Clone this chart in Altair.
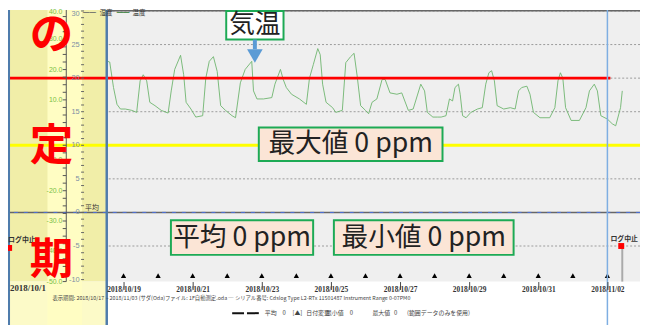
import altair as alt
import pandas as pd

W, H = 640, 319

# x = days since 2018-10-17 00:00, y = temperature (deg C)
X_DOMAIN = [-1.3429, 16.943]
Y_DOMAIN = [-16.765, 30.147]
G_DOMAIN = [-64.34, 39.674]          # secondary (green) scale on the left

curve_day = [
    -1.57, -1.48, -1.40, 1.54, 1.60, 1.71, 1.81, 1.91, 2.05, 2.24,
    2.38, 2.48, 2.57, 2.67, 2.76, 2.91, 3.09, 3.29, 3.38, 3.48,
    3.65, 3.74, 3.81, 3.95, 4.09, 4.29, 4.38, 4.48, 4.60, 4.71,
    4.81, 4.95, 5.14, 5.24, 5.38, 5.52, 5.71, 5.76, 5.86, 6.05,
    6.29, 6.38, 6.54, 6.62, 6.71, 6.86, 7.09, 7.29, 7.38, 7.49,
    7.62, 7.69, 7.76, 7.86, 8.05, 8.14, 8.33, 8.43, 8.57, 8.67,
    8.76, 8.86, 9.00, 9.09, 9.19, 9.33, 9.48, 9.57, 9.71, 9.91,
    10.05, 10.24, 10.38, 10.60, 10.71, 10.79, 10.95, 11.09, 11.19, 11.33,
    11.43, 11.52, 11.59, 11.69, 11.74, 11.81, 11.91, 12.05, 12.24, 12.38,
    12.48, 12.57, 12.65, 12.73, 12.81, 13.00, 13.19, 13.33, 13.43, 13.52,
    13.67, 13.76, 13.86, 14.05, 14.33, 14.48, 14.57, 14.64, 14.71, 14.79,
    14.95, 15.19, 15.38, 15.48, 15.62, 15.71, 15.81, 16.00, 16.14, 16.24,
    16.38, 16.43,
]
curve_temp = [
    15.6, 18.1, 19.6, 22.5, 22.4, 18.6, 16.1, 15.4, 15.4, 15.2,
    14.9, 19.6, 20.5, 19.6, 16.4, 15.9, 15.2, 14.8, 18.1, 21.3,
    23.4, 20.5, 16.4, 15.4, 14.2, 14.4, 20.0, 22.5, 23.2, 21.0,
    15.9, 15.2, 14.4, 14.1, 19.3, 21.3, 22.5, 18.1, 16.9, 16.9,
    17.1, 19.1, 21.3, 19.8, 18.6, 17.6, 16.9, 16.1, 20.0, 22.0,
    24.4, 23.5, 19.1, 16.4, 15.6, 14.9, 15.2, 22.3, 23.2, 23.7,
    20.3, 15.9, 15.2, 14.7, 16.4, 16.9, 19.8, 19.8, 17.8, 17.6,
    17.8, 15.2, 15.4, 19.1, 18.1, 14.9, 14.2, 14.2, 14.2, 14.4,
    16.9, 16.6, 18.6, 19.1, 17.6, 14.4, 14.1, 14.9, 15.4, 15.6,
    19.1, 20.8, 21.1, 19.6, 15.9, 15.4, 15.6, 15.4, 18.1, 18.6,
    18.8, 17.6, 14.9, 14.1, 14.1, 15.6, 19.6, 20.8, 20.0, 15.6,
    13.7, 13.7, 15.6, 18.1, 19.1, 18.1, 14.4, 13.9, 13.2, 12.9,
    15.6, 18.1,
]

grid_temps = [30, 25, 20, 15, 10, 5, -5]
temp_ticks = [30, 29, 28, 27, 26, 25, 24, 23, 22, 21, 20, 19, 18, 17, 16, 15, 14, 13, 12, 11,
              10, 9, 8, 7, 6, 5, 4, 3, 2, 1, 0, -1, -2, -3, -4, -5, -6, -7, -8, -9, -10]
temp_labels = [25, 20, 15, 10, 5, 0, -5, -10]
green_ticks = [37.5, 35, 32.5, 30, 27.5, 25, 22.5, 20, 17.5, 15, 12.5, 10, 7.5, 5, 2.5, 0,
               -2.5, -5, -7.5, -10, -12.5, -15, -17.5, -20, -22.5, -25, -27.5, -30, -32.5,
               -35, -37.5, -40, -42.5, -45, -47.5, -50]
green_labels = [30, 20, 10, 0, -10, -20, -30, -40, -50]
marker_days = [0, 1, 2, 3, 4, 5, 6, 7, 8, 9, 10, 11, 12, 13, 14, 15, 16]
label_days = [2, 4, 6, 8, 10, 12, 14, 16]

PLOT_BOTTOM = -10.3      # temperature where grey plot area ends
G_BOTTOM = -50.0
TOP_LINE = 30.05
MARKER_T = -9.41
BAND = [-1.32, 1.514]
STRIP = [-0.2, 0.8]
RED_END = 16.086
CURSOR_DAY = 16.0
G_AXIS_DAY = 0.343
G_TICK = [0.24, 0.343]
G_LABEL_DAY = 0.229
T_TICK = [0.771, 0.857]
T_LABEL_DAY = 0.73

boxes = pd.DataFrame({
    "label": ["気温", "最大値 0 ppm", "平均 0 ppm", "最小値 0 ppm"],
    "x1": [4.971, 5.914, 3.371, 8.086],
    "x2": [6.629, 11.229, 7.486, 13.286],
    "y1": [30.0, 12.65, -1.18, -1.18],
    "y2": [25.74, 7.65, -6.32, -6.32],
    "cx": [5.80, 8.571, 5.429, 10.686],
    "cy": [27.85, 10.15, -3.75, -3.75],
    "fs": [26, 27, 27, 27],
    "fill": ["#ffffff", "#fbe5d6", "#fbe5d6", "#fbe5d6"],
})

big_chars = pd.DataFrame({"ch": ["の", "定", "期"], "d": [-0.086, -0.086, -0.086],
                          "t": [26.2, 9.7, -7.2]})

foot2_items = ["平均", "0", "[▲]", "日付変更", "最小値", "0", "最大値", "0", "(範囲データのみを使用)"]
foot2_days = [6.086, 6.60, 6.886, 7.286, 7.857, 8.543, 9.20, 9.829, 10.20]
FOOT2_T = -15.0
FOOT2_LINE = [5.143, 5.914]

xs = alt.Scale(domain=X_DOMAIN, nice=False, zero=False)
ys = alt.Scale(domain=Y_DOMAIN, nice=False, zero=False)
gs = alt.Scale(domain=G_DOMAIN, nice=False, zero=False)


def X(f="d"):
    return alt.X(f, type="quantitative", scale=xs, axis=None)


def Y(f="t"):
    return alt.Y(f, type="quantitative", scale=ys, axis=None)


def G(f="g"):
    return alt.Y(f, type="quantitative", scale=gs, axis=None)


def one(**kw):
    return alt.Chart(pd.DataFrame({k: [v] for k, v in kw.items()}))


# ---------------- layer 1: plot background, data, band, reference lines
x_axis = alt.Chart(pd.DataFrame({"d": label_days, "t": [MARKER_T] * len(label_days)})).mark_point(
    opacity=0).encode(
    x=alt.X("d:Q", scale=xs, axis=alt.Axis(
        orient="bottom", offset=-44, values=label_days, zindex=1,
        labelExpr="utcFormat(utc(2018,9,17) + datum.value*86400000, '%Y/%m/%d')",
        tickSize=8, labelPadding=-4, domain=False, grid=False, title=None,
        labelFont="Liberation Serif", labelFontSize=7.5, labelFontWeight="bold",
        labelColor="#333333", tickColor="#444444", labelOverlap=False, labelFlush=False)),
    y=Y())

bg = one(a=PLOT_BOTTOM, b=Y_DOMAIN[1]).mark_rect(color="#efefef").encode(y=Y("a"), y2="b")
top_line = one(t=TOP_LINE).mark_rule(color="#666666", strokeWidth=1.5).encode(y=Y())
grid = alt.Chart(pd.DataFrame({"t": grid_temps})).mark_rule(
    color="#9a9a9a", strokeWidth=1, strokeDash=[2, 2]).encode(y=Y())

curve_df = pd.DataFrame({"d": curve_day, "t": curve_temp, "i": range(len(curve_day))})
curve = alt.Chart(curve_df).mark_line(color="#6db46d", strokeWidth=1, opacity=0.9).encode(
    x=X(), y=Y(), order="i:Q")

markers = alt.Chart(pd.DataFrame({"d": marker_days, "t": [MARKER_T] * len(marker_days)})).mark_point(
    shape="triangle-up", filled=True, color="black", size=28, opacity=1).encode(x=X(), y=Y())

band_df = pd.DataFrame({
    "x1": [BAND[0], BAND[0], STRIP[0]], "x2": [BAND[1], BAND[1], STRIP[1]],
    "y1": [PLOT_BOTTOM, Y_DOMAIN[0], Y_DOMAIN[0]], "y2": [Y_DOMAIN[1], PLOT_BOTTOM, Y_DOMAIN[1]],
    "c": ["#f1eea8", "#fcfac8", "#fffdc3"]})
band = alt.Chart(band_df).mark_rect().encode(
    x=X("x1"), x2="x2", y=Y("y1"), y2="y2", color=alt.Color("c:N", scale=None))

red_line = one(a=X_DOMAIN[0], b=RED_END, t=20).mark_rule(color="#ff0000", strokeWidth=3).encode(
    x=X("a"), x2="b", y=Y())
yellow_line = one(t=10).mark_rule(color="#ffff00", strokeWidth=3).encode(y=Y())
zero_line = one(t=0).mark_rule(color="#666666", strokeWidth=1.5).encode(y=Y())
zero_dash = one(t=0).mark_rule(color="#4a6fd8", strokeWidth=1, strokeDash=[4, 6]).encode(y=Y())

vlines = alt.Chart(pd.DataFrame({"d": BAND})).mark_rule(color="#4f7cac", strokeWidth=2.5).encode(x=X())
cursor = one(d=CURSOR_DAY).mark_rule(color="#7eaee2", strokeWidth=1.5).encode(x=X())

L1 = alt.layer(x_axis, bg, grid, top_line, curve, markers, band, red_line, yellow_line,
               zero_line, zero_dash, vlines, cursor).resolve_axis(x="independent")

# ---------------- layer 2: green secondary scale (drawn as marks)
g_domain = one(d=G_AXIS_DAY, a=G_DOMAIN[1], b=G_BOTTOM).mark_rule(color="#555555", strokeWidth=1).encode(
    x=X(), y=G("a"), y2="b")
g_ticks = alt.Chart(pd.DataFrame({"g": green_ticks, "a": [G_TICK[0]] * len(green_ticks),
                                  "b": [G_TICK[1]] * len(green_ticks)})).mark_rule(
    color="#555555", strokeWidth=1).encode(x=X("a"), x2="b", y=G())
g_lbl_df = pd.DataFrame({"g": green_labels, "d": [G_LABEL_DAY] * len(green_labels)})
g_lbl_df["s"] = [f"{v:.1f}" for v in green_labels]
g_labels = alt.Chart(g_lbl_df).mark_text(align="right", fontSize=7, color="#7dbf45",
                                         font="Liberation Sans").encode(x=X(), y=G(), text="s:N")
g_top = one(g=40, d=G_LABEL_DAY, s="40.0").mark_text(align="right", fontSize=7, color="#7dbf45",
                                                      font="Liberation Sans", dy=3).encode(
    x=X(), y=G(), text="s:N")
L2 = alt.layer(g_domain, g_ticks, g_labels, g_top).resolve_axis(x="independent")

# ---------------- layer 3: temperature axis marks and annotations
t_ticks = alt.Chart(pd.DataFrame({"t": temp_ticks, "a": [T_TICK[0]] * len(temp_ticks),
                                  "b": [T_TICK[1]] * len(temp_ticks)})).mark_rule(
    color="#666666", strokeWidth=1).encode(x=X("a"), x2="b", y=Y())
t_lbl_df = pd.DataFrame({"t": temp_labels, "d": [T_LABEL_DAY] * len(temp_labels)})
t_lbl_df["s"] = [str(v) for v in temp_labels]
t_labels = alt.Chart(t_lbl_df).mark_text(align="right", fontSize=7.5, color="#7d8ea3",
                                         font="Liberation Sans").encode(x=X(), y=Y(), text="s:N")
t_top = one(t=30, d=T_LABEL_DAY, s="30").mark_text(align="right", fontSize=7.5, color="#7d8ea3",
                                                    font="Liberation Sans", dy=3).encode(
    x=X(), y=Y(), text="s:N")

stop_sq = alt.Chart(pd.DataFrame({"d": [-1.31, 16.4], "t": [-5.29, -5.0]})).mark_square(
    color="#ff0000", size=36, opacity=1).encode(x=X(), y=Y())
stop_txt_l = one(d=-1.34, t=-4.12).mark_text(
    text="ログ中止", fontSize=7, fontWeight="bold", color="#333333",
    font="Noto Sans CJK JP", align="left").encode(x=X(), y=Y())
stop_txt_r = one(d=16.486, t=-3.97).mark_text(
    text="ログ中止", fontSize=7, fontWeight="bold", color="#333333",
    font="Noto Sans CJK JP", align="center").encode(x=X(), y=Y())
stop_rule = one(d=16.43, a=-5.3, b=PLOT_BOTTOM).mark_rule(color="#aaaaaa", strokeWidth=2).encode(
    x=X(), y=Y("a"), y2="b")

avg_lbl = one(d=1.086, t=0.59).mark_text(text="平均", fontSize=7, color="#333333",
                                         font="Noto Sans CJK JP").encode(x=X(), y=Y())

legend = alt.Chart(pd.DataFrame({
    "d": [0.83, 1.31, 1.80, 2.26], "t": [29.7] * 4,
    "s": ["━━", "湿度", "━━", "温度"], "c": ["#666666", "#333333", "#2e7d32", "#333333"]})
).mark_text(fontSize=6.5, align="left", font="Noto Sans CJK JP").encode(
    x=X(), y=Y(), text="s:N", color=alt.Color("c:N", scale=None))

box_rect = alt.Chart(boxes).mark_rect(stroke="#1daa55", strokeWidth=2).encode(
    x=X("x1"), x2="x2", y=Y("y1"), y2="y2", fill=alt.Fill("fill:N", scale=None))
box_text = alt.Chart(boxes).mark_text(color="#222222", font="Noto Sans CJK JP").encode(
    x=X("cx"), y=Y("cy"), text="label:N", size=alt.Size("fs:Q", scale=None, legend=None))

arrow_shaft = one(d=5.80, a=25.74, b=24.3).mark_rule(color="#5b9bd5", strokeWidth=4).encode(
    x=X(), y=Y("a"), y2="b")
arrow_head = one(d=5.80, t=23.3).mark_point(shape="triangle-down", filled=True, color="#5b9bd5",
                                             size=250, opacity=1).encode(x=X(), y=Y())

big = alt.Chart(big_chars).mark_text(fontSize=44, fontWeight="bold", color="#ff0000",
                                     font="Noto Sans CJK JP").encode(x=X(), y=Y(), text="ch:N")

date_left = one(d=-1.286, t=-11.32).mark_text(text="2018/10/1", align="left", fontSize=9,
                                              fontWeight="bold", font="Liberation Serif",
                                              color="#333333").encode(x=X(), y=Y())
foot1 = one(d=-0.057, t=-12.79).mark_text(
    text="表示期間: 2018/10/17 ~ 2018/11/03  (サダ(Oda)ファイル: 1F自動測定.oda  ─  シリアル番号: Cdslog Type L2-RTx 11501487 Instrument Range 0-07PM0",
    align="left", fontSize=5.4, color="#444444", font="Noto Sans CJK JP").encode(x=X(), y=Y())
foot2_line = one(a=FOOT2_LINE[0], b=FOOT2_LINE[1], t=FOOT2_T).mark_rule(
    color="#111111", strokeWidth=2, strokeDash=[12, 3]).encode(x=X("a"), x2="b", y=Y())
foot2 = alt.Chart(pd.DataFrame({"d": foot2_days, "s": foot2_items, "t": [FOOT2_T] * len(foot2_days)})
                  ).mark_text(align="left", fontSize=6, color="#444444", font="Noto Sans CJK JP").encode(
    x=X(), y=Y(), text="s:N")

L3 = alt.layer(t_ticks, t_labels, t_top, stop_rule, stop_sq, stop_txt_l, stop_txt_r, avg_lbl, legend,
               box_rect, box_text, arrow_shaft, arrow_head, big, date_left, foot1, foot2_line, foot2
               ).resolve_axis(x="independent")

chart = alt.layer(L1, L2, L3).resolve_scale(y="independent").resolve_axis(x="independent").properties(
    width=W, height=H, padding=0, autosize=alt.AutoSizeParams(type="none"),
    background="#ffffff").configure_view(stroke=None)

chart.save("out.html", embed_options={"renderer": "svg", "actions": False})
